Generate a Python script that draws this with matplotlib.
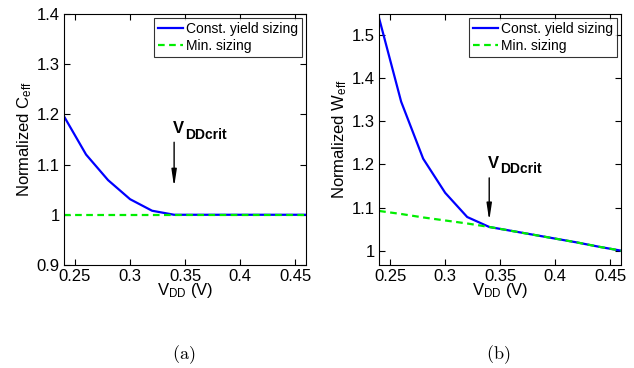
import matplotlib
matplotlib.use('Agg')
import matplotlib.pyplot as plt

plt.rcParams['font.family'] = ['Liberation Sans', 'DejaVu Sans']
plt.rcParams['mathtext.fontset'] = 'custom'
plt.rcParams['mathtext.rm'] = 'Liberation Sans'
plt.rcParams['mathtext.bf'] = 'Liberation Sans:bold'
plt.rcParams['mathtext.it'] = 'Liberation Sans:italic'

# data
vdd = [0.24, 0.26, 0.28, 0.30, 0.32, 0.34, 0.36, 0.38, 0.40, 0.42, 0.44, 0.46]
ceff_yield = [1.196, 1.120, 1.069, 1.031, 1.008, 1.0, 1.0, 1.0, 1.0, 1.0, 1.0, 1.0]
ceff_min = [1.0, 1.0, 1.0, 1.0, 1.0, 1.0, 1.0, 1.0, 1.0, 1.0, 1.0, 1.0]
weff_yield = [1.538, 1.345, 1.213, 1.134, 1.078, 1.055, 1.046, 1.037, 1.028, 1.019, 1.009, 1.0]
weff_min = [1.092, 1.085, 1.077, 1.070, 1.063, 1.055, 1.046, 1.037, 1.028, 1.019, 1.009, 1.0]
vdd_crit = 0.34

fig = plt.figure(figsize=(6.34, 3.68), dpi=100)
ax1 = fig.add_axes([0.101, 0.280, 0.382, 0.682])
ax2 = fig.add_axes([0.598, 0.280, 0.382, 0.682])

panels = [
    (ax1, ceff_yield, ceff_min, 'Normalized C$_{\\mathrm{eff}}$', (0.9, 1.4),
     [0.9, 1.0, 1.1, 1.2, 1.3, 1.4], ['0.9', '1', '1.1', '1.2', '1.3', '1.4'],
     (1.15, 1.05), 1.163, '(a)'),
    (ax2, weff_yield, weff_min, 'Normalized W$_{\\mathrm{eff}}$', (0.967, 1.548),
     [1.0, 1.1, 1.2, 1.3, 1.4, 1.5], ['1', '1.1', '1.2', '1.3', '1.4', '1.5'],
     (1.175, 1.063), 1.192, '(b)'),
]

for ax, yld, mn, ylab, ylim, yt, ytl, arr, ty, cap in panels:
    ax.plot(vdd, yld, color='#0000ff', lw=1.6, label='Const. yield sizing')
    ax.plot(vdd, mn, color='#00ee00', lw=1.6, ls=(0, (3, 2)), label='Min. sizing')
    ax.set_xlim(0.24, 0.46)
    ax.set_ylim(*ylim)
    ax.set_xticks([0.25, 0.3, 0.35, 0.4, 0.45])
    ax.set_xticklabels(['0.25', '0.3', '0.35', '0.4', '0.45'])
    ax.set_yticks(yt)
    ax.set_yticklabels(ytl)
    ax.tick_params(direction='in', top=True, right=True, labelsize=12, length=4, pad=3)
    ax.set_ylabel(ylab, fontsize=12, labelpad=2)
    ax.set_xlabel('V$_{\\mathrm{DD}}$ (V)', fontsize=12, labelpad=-2)
    ax.annotate('', xy=(vdd_crit, arr[1]), xytext=(vdd_crit, arr[0]),
                arrowprops=dict(arrowstyle='-|>,head_width=0.15,head_length=1.0',
                                color='black', lw=1.0))
    # V_DDcrit label: big V plus a larger-than-mathtext subscript
    ax.text(vdd_crit - 0.001, ty, 'V', fontsize=12, fontweight='bold',
            ha='left', va='baseline')
    ax.annotate('DDcrit', xy=(vdd_crit - 0.001, ty), xytext=(8.5, -4),
                textcoords='offset points', fontsize=10, fontweight='bold',
                ha='left', va='baseline')
    leg = ax.legend(loc='upper right', fontsize=10, frameon=True, fancybox=False,
                    handlelength=1.8, handletextpad=0.2, borderpad=0.3,
                    labelspacing=0.2, borderaxespad=0.3)
    leg.get_frame().set_edgecolor('black')
    leg.get_frame().set_linewidth(0.8)
    pos = ax.get_position()
    fig.text(pos.x0 + pos.width / 2 - 0.003, 0.035, '$\\mathrm{' + cap + '}$',
             fontsize=13, ha='center', va='center', math_fontfamily='cm')

fig.savefig('out.png', dpi=100)
